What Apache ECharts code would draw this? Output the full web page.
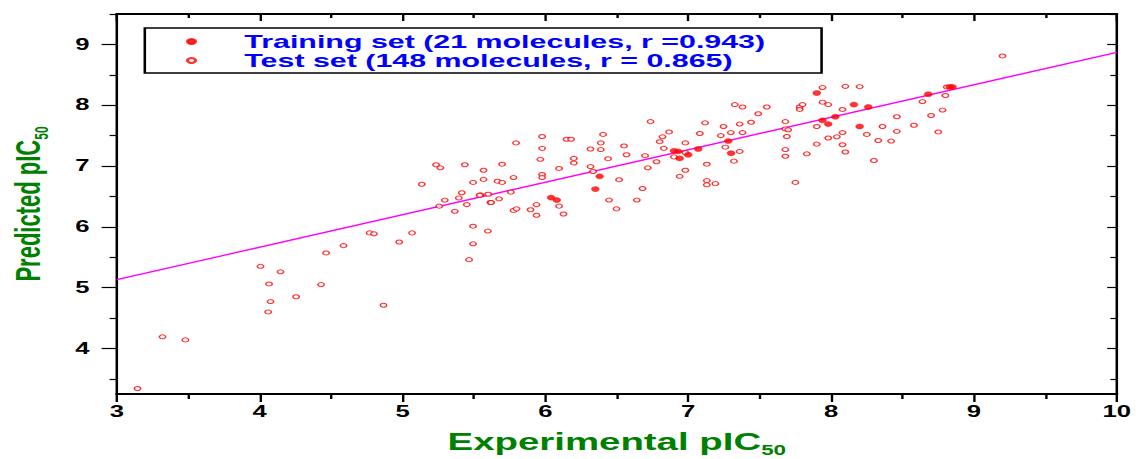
<!DOCTYPE html>
<html>
<head>
<meta charset="utf-8">
<script src="https://cdn.jsdelivr.net/npm/echarts@6/dist/echarts.min.js"></script>
<style>
html,body{margin:0;padding:0;background:#fff;overflow:hidden;}
#wrap{width:1136px;height:459px;overflow:hidden;}
#main{width:710px;height:459px;transform:scaleX(1.6);transform-origin:0 0;}
</style>
</head>
<body>
<div id="wrap"><div id="main"></div></div>
<script>
// ---- data ----
var trainingSet = [
  [6.04,6.48],[6.08,6.44],[6.35,6.62],[6.38,6.83],[6.90,7.25],[6.94,7.125],
  [7.00,7.185],[7.07,7.28],[7.28,7.41],[7.30,7.21],[7.90,8.20],[7.94,7.75],
  [8.03,7.81],[7.98,7.69],[8.16,8.01],[8.26,7.97],[8.20,7.65],[8.68,8.18],
  [8.83,8.30],[8.85,8.30],[6.93,7.24]
];
var testSet = [
  [3.145,3.34],[3.32,4.19],[3.48,4.14],[4.006,5.35],[4.146,5.26],[4.066,5.06],
  [4.076,4.77],[4.06,4.60],[4.255,4.85],[4.43,5.05],[4.465,5.57],[4.587,5.69],
  [4.77,5.90],[4.80,5.885],[4.867,4.71],[4.977,5.75],[5.067,5.90],[5.135,6.70],
  [5.235,7.02],[5.265,6.97],[5.257,6.34],[5.296,6.44],[5.366,6.255],[5.394,6.475],
  [5.415,6.56],[5.436,7.02],[5.45,6.365],[5.466,5.46],[5.494,6.73],[5.494,6.01],
  [5.494,5.72],[5.546,6.525],[5.567,6.93],[5.567,6.78],[5.597,5.93],[5.60,6.535],
  [5.616,6.40],[5.665,6.75],[5.676,6.46],[5.697,7.03],[5.697,6.73],[5.758,6.57],
  [5.777,6.81],[5.777,6.27],[5.795,7.38],[5.798,6.295],[5.896,6.28],[5.938,6.365],
  [5.938,6.19],[5.965,7.11],[5.977,7.485],[5.977,7.29],[5.977,6.86],[5.977,6.81],
  [6.096,6.96],[6.096,6.34],[6.127,6.21],[6.148,7.44],[6.18,7.44],[6.199,7.125],
  [6.199,7.05],[6.316,7.28],[6.316,6.99],[6.334,6.91],[6.388,7.38],[6.388,7.27],
  [6.404,7.52],[6.439,7.12],[6.446,6.44],[6.498,6.295],[6.516,6.775],[6.551,7.33],
  [6.568,7.185],[6.64,6.44],[6.68,6.63],[6.698,7.17],[6.717,6.97],[6.736,7.73],
  [6.778,7.07],[6.80,7.40],[6.82,7.48],[6.829,7.29],[6.866,7.56],[6.90,7.15],
  [6.94,6.83],[6.98,7.38],[6.98,7.22],[6.98,6.93],[7.081,7.535],[7.118,7.71],
  [7.13,7.03],[7.13,6.76],[7.13,6.69],[7.19,6.71],[7.228,7.50],[7.247,7.65],
  [7.26,7.31],[7.298,7.55],[7.32,7.08],[7.326,8.01],[7.36,7.69],[7.36,7.24],
  [7.38,7.97],[7.38,7.55],[7.44,7.72],[7.49,7.86],[7.55,7.97],[7.68,7.73],
  [7.68,7.61],[7.70,7.595],[7.69,7.485],[7.68,7.27],[7.68,7.16],[7.75,6.73],
  [7.78,7.97],[7.78,7.93],[7.80,8.01],[7.83,7.20],[7.90,7.65],[7.90,7.36],
  [7.94,8.29],[7.94,8.05],[7.98,8.01],[7.98,7.46],[8.04,7.48],[8.08,7.93],
  [8.08,7.55],[8.08,7.35],[8.10,8.31],[8.10,7.23],[8.20,8.305],[8.25,7.52],
  [8.30,7.09],[8.33,7.42],[8.36,7.65],[8.42,7.41],[8.46,7.81],[8.46,7.57],
  [8.58,7.67],[8.64,8.06],[8.70,7.83],[8.75,7.56],[8.78,7.92],[8.80,8.16],
  [8.81,8.30],[9.20,8.81],[5.54,6.52],[5.62,6.40]
];
var fitLine = [[3,5.13],[10,8.87]];
var yMajorTicks = [4,5,6,7,8,9];
var yMinorTicks = [3.5,4.5,5.5,6.5,7.5,8.5,9.5];
var trainingName = 'Training set (21 molecules, r =0.943)';
var testName = 'Test set (148 molecules, r = 0.865)';

var FONT = '"Liberation Sans", Arial, sans-serif';
var yMin = 3.25, yMax = 9.5;

var chart = echarts.init(document.getElementById('main'), null, {renderer:'svg'});

function yAx(pos, ticks, len, inside, showLabel, showLine) {
  return {
    type:'value', position:pos, min:yMin, max:yMax,
    splitLine:{show:false},
    axisLine:{show:showLine, onZero:false, lineStyle:{color:'#000', width:1.6}},
    axisTick:{show:true, inside:inside, length:len, customValues:ticks, lineStyle:{color:'#000', width:1.2}},
    axisLabel:{show:showLabel, customValues:yMajorTicks, margin:17, color:'#000', fontFamily:FONT, fontWeight:'bold', fontSize:16},
    minorTick:{show:false}
  };
}

var yMain = yAx('left', yMajorTicks, 9.5, false, true, true);
yMain.name = '{a|Predicted pIC}{b|50}';
yMain.nameLocation = 'middle';
yMain.nameRotate = 90;
yMain.nameGap = 41;
yMain.nameTextStyle = {
  rich:{
    a:{color:'#008000', fontFamily:FONT, fontWeight:'bold', fontSize:22, lineHeight:30, verticalAlign:'middle'},
    b:{color:'#008000', fontFamily:FONT, fontWeight:'bold', fontSize:12, lineHeight:30, verticalAlign:'bottom'}
  }
};

var option = {
  animation:false,
  backgroundColor:'#fff',
  grid:{left:73, right:12, top:14, bottom:65, containLabel:false, outerBoundsMode:'none'},
  legend:{
    orient:'vertical', left:90.5, top:28,
    padding:[4,35,3,25.7], itemGap:0, itemWidth:56, itemHeight:5,
    borderColor:'#000', borderWidth:1.6, backgroundColor:'#fff',
    selectedMode:false,
    textStyle:{color:'#0000ff', fontFamily:FONT, fontWeight:'bold', fontSize:19, lineHeight:18},
    data:[{name:trainingName, icon:'circle'},{name:testName, icon:'circle'}]
  },
  xAxis:[
    {type:'value', position:'bottom', min:3, max:10, interval:1,
     splitLine:{show:false},
     axisLine:{onZero:false, lineStyle:{color:'#000', width:2}},
     axisTick:{inside:false, length:8, lineStyle:{color:'#000', width:1.5}},
     minorTick:{show:true, splitNumber:2, length:5, lineStyle:{color:'#000', width:1.5}},
     axisLabel:{margin:10, color:'#000', fontFamily:FONT, fontWeight:'bold', fontSize:16},
     name:'{a|Experimental pIC}{b|50}', nameLocation:'middle', nameGap:33,
     nameTextStyle:{rich:{
       a:{color:'#008000', fontFamily:FONT, fontWeight:'bold', fontSize:24, lineHeight:30, verticalAlign:'middle'},
       b:{color:'#008000', fontFamily:FONT, fontWeight:'bold', fontSize:14, lineHeight:30, verticalAlign:'bottom'}
     }}
    },
    {type:'value', position:'top', min:3, max:10, interval:1,
     splitLine:{show:false},
     axisLine:{onZero:false, lineStyle:{color:'#000', width:2}},
     axisTick:{inside:true, length:7, lineStyle:{color:'#000', width:1.5}},
     minorTick:{show:true, splitNumber:2, length:4, lineStyle:{color:'#000', width:1.5}},
     axisLabel:{show:false}
    }
  ],
  yAxis:[
    yMain,
    yAx('left', yMinorTicks, 4.5, false, false, false),
    yAx('right', yMajorTicks, 6, true, false, true),
    yAx('right', yMinorTicks, 4, true, false, false)
  ],
  series:[
    {type:'line', data:fitLine, xAxisIndex:0, yAxisIndex:0, symbol:'none', silent:true,
     lineStyle:{color:'#ff00ff', width:1.3}, z:1},
    {name:testName, type:'scatter', data:testSet, xAxisIndex:0, yAxisIndex:0,
     symbol:'circle', symbolSize:4,
     itemStyle:{color:'#ffffff', borderColor:'#ff0000', borderWidth:1}, z:2},
    {name:trainingName, type:'scatter', data:trainingSet, xAxisIndex:0, yAxisIndex:0,
     symbol:'circle', symbolSize:5,
     itemStyle:{color:'#ff0000', borderColor:'#ff0000', borderWidth:0.4}, z:3}
  ]
};
chart.setOption(option);
</script>
</body>
</html>
